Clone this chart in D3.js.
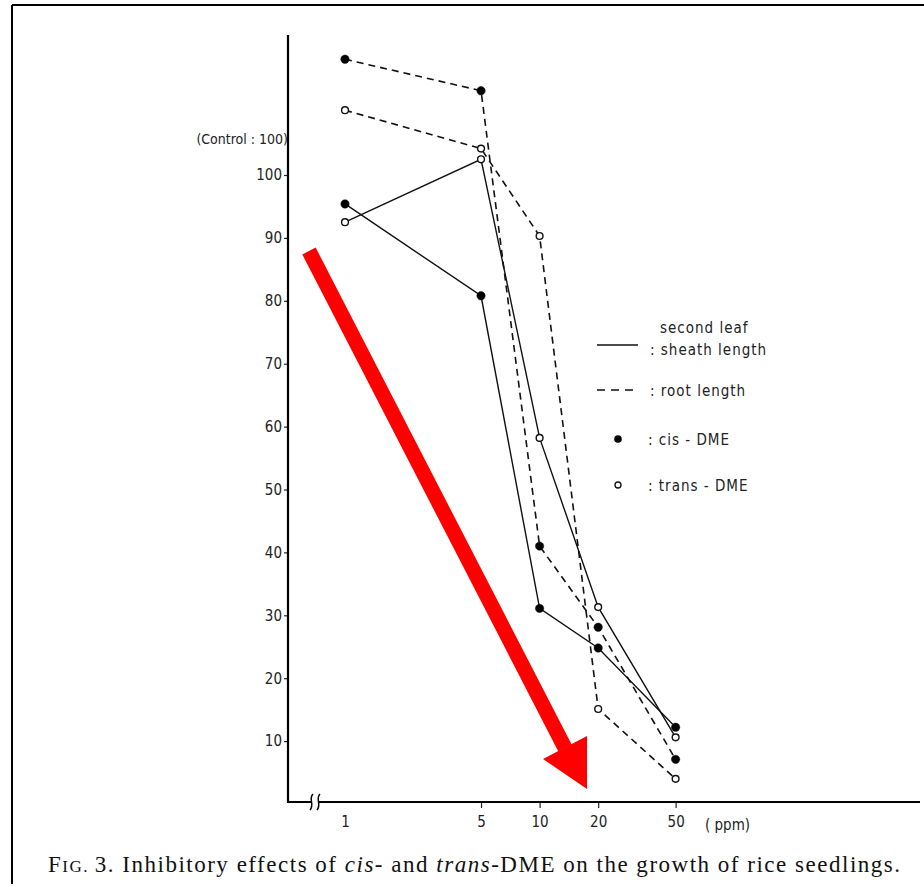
<!DOCTYPE html>
<html>
<head>
<meta charset="utf-8">
<script src="https://cdn.jsdelivr.net/npm/d3@7"></script>
<style>
  body { margin: 0; background: #fff; }
  svg { display: block; }
</style>
</head>
<body>
<svg id="drawing_region"></svg>
<script>
// concentrations (ppm) and growth relative to control (= 100)
const concentrations = [1, 5, 10, 20, 50];
const cisSheath   = [95.4, 80.8, 31.1, 24.8, 12.2];
const transSheath = [92.5, 102.5, 58.2, 31.3, 10.6];
const cisRoot     = [118.4, 113.4, 41.0, 28.1, 7.1];
const transRoot   = [110.3, 104.2, 90.3, 15.1, 4.0];

const yTicks = [10, 20, 30, 40, 50, 60, 70, 80, 90, 100];
const xTicks = [1, 5, 10, 20, 50];

const series = [
    { name: 'cis sheath',   values: cisSheath,   dashed: false, filled: true },
    { name: 'trans sheath', values: transSheath, dashed: false, filled: false },
    { name: 'cis root',     values: cisRoot,     dashed: true,  filled: true },
    { name: 'trans root',   values: transRoot,   dashed: true,  filled: false }
];

const config = {
    width: 924,
    height: 887,
    axisX: 288,
    axisY: 802,
    axisTop: 35,
    axisRight: 920
};

const labelFont = "'DejaVu Sans Condensed', 'Liberation Sans Narrow', sans-serif";

const svg = d3.select('#drawing_region')
    .attr('width', config.width)
    .attr('height', config.height);

// scanned page frame (top + left edge)
svg.append('line').attr('x1', 12).attr('x2', config.width).attr('y1', 5).attr('y2', 5)
    .attr('stroke', '#000').attr('stroke-width', 2);
svg.append('line').attr('x1', 12).attr('x2', 12).attr('y1', 5).attr('y2', 884)
    .attr('stroke', '#000').attr('stroke-width', 2);

const xScale = d3.scaleLog()
    .domain([1, 10])
    .range([345, 539.6]);

const yScale = d3.scaleLinear()
    .domain([0, 100])
    .range([804, 175]);

// y axis
const yAxis = d3.axisLeft(yScale)
    .tickValues(yTicks)
    .tickSize(4)
    .tickPadding(2)
    .tickFormat(d3.format('d'));

const yg = svg.append('g')
    .attr('transform', `translate(${config.axisX},0)`)
    .call(yAxis);
yg.select('.domain').remove();
yg.selectAll('text')
    .attr('font-family', labelFont)
    .attr('font-size', 15)
    .attr('fill', '#222');
yg.selectAll('line').attr('stroke', '#222').attr('stroke-width', 1.2);

svg.append('line')
    .attr('x1', config.axisX).attr('x2', config.axisX)
    .attr('y1', config.axisTop).attr('y2', config.axisY)
    .attr('stroke', '#000').attr('stroke-width', 2.2);

svg.append('text')
    .attr('x', config.axisX).attr('y', 144)
    .attr('text-anchor', 'end')
    .attr('font-family', labelFont)
    .attr('font-size', 14)
    .attr('fill', '#222')
    .text('(Control : 100)');

// x axis
const xAxis = d3.axisBottom(xScale)
    .tickValues(xTicks)
    .tickSize(6)
    .tickPadding(8)
    .tickFormat(d3.format('d'));

const xg = svg.append('g')
    .attr('transform', `translate(0,${config.axisY})`)
    .call(xAxis);
xg.select('.domain').remove();
xg.selectAll('.tick').filter(d => d === 1).select('line').remove();
xg.selectAll('text')
    .attr('font-family', labelFont)
    .attr('font-size', 15)
    .attr('fill', '#222');
xg.selectAll('line').attr('stroke', '#222').attr('stroke-width', 1.2);

svg.append('line')
    .attr('x1', config.axisX - 1).attr('x2', config.axisRight)
    .attr('y1', config.axisY).attr('y2', config.axisY)
    .attr('stroke', '#000').attr('stroke-width', 2.2);

// axis break
svg.append('rect').attr('x', 311).attr('y', config.axisY - 4).attr('width', 7).attr('height', 8)
    .attr('fill', '#fff');
[311, 318].forEach(bx => {
    svg.append('path')
        .attr('d', `M${bx + 2},${config.axisY - 8} C${bx - 3},${config.axisY - 3} ${bx + 4},${config.axisY + 2} ${bx - 1},${config.axisY + 8}`)
        .attr('fill', 'none').attr('stroke', '#000').attr('stroke-width', 1.5);
});

svg.append('text')
    .attr('x', 705).attr('y', 830)
    .attr('font-family', labelFont)
    .attr('font-size', 15)
    .attr('fill', '#222')
    .text('( ppm)');

// data lines
const line = d3.line()
    .x((d, i) => xScale(concentrations[i]))
    .y(d => yScale(d));

svg.selectAll('.series')
    .data(series)
    .enter()
    .append('path')
    .attr('class', 'series')
    .attr('d', d => line(d.values))
    .attr('fill', 'none')
    .attr('stroke', '#111')
    .attr('stroke-width', d => d.dashed ? 1.6 : 1.4)
    .attr('stroke-dasharray', d => d.dashed ? '7,5' : null);

series.forEach(s => {
    svg.selectAll(null)
        .data(s.values)
        .enter()
        .append('circle')
        .attr('cx', (d, i) => xScale(concentrations[i]))
        .attr('cy', d => yScale(d))
        .attr('r', s.filled ? 4.2 : 3.4)
        .attr('fill', s.filled ? '#000' : '#fff')
        .attr('stroke', '#111')
        .attr('stroke-width', s.filled ? 0.5 : 1.4);
});

// legend
const legend = svg.append('g')
    .attr('font-family', labelFont)
    .attr('font-size', 15)
    .attr('fill', '#222')
    .attr('letter-spacing', 1);

legend.append('line').attr('x1', 597).attr('x2', 638).attr('y1', 345).attr('y2', 345)
    .attr('stroke', '#111').attr('stroke-width', 1.3);
legend.append('line').attr('x1', 597).attr('x2', 638).attr('y1', 390).attr('y2', 390)
    .attr('stroke', '#111').attr('stroke-width', 1.6).attr('stroke-dasharray', '8,6');
legend.append('circle').attr('cx', 618).attr('cy', 439).attr('r', 3.8).attr('fill', '#000');
legend.append('circle').attr('cx', 618).attr('cy', 485).attr('r', 3).attr('fill', '#fff')
    .attr('stroke', '#111').attr('stroke-width', 1.3);

legend.append('text').attr('x', 660).attr('y', 333).text('second  leaf');
legend.append('text').attr('x', 650).attr('y', 355).text(': sheath length');
legend.append('text').attr('x', 650).attr('y', 396).text(': root  length');
legend.append('text').attr('x', 648).attr('y', 445).text(': cis - DME');
legend.append('text').attr('x', 648).attr('y', 491).text(': trans - DME');

// red annotation arrow
const arrowStart = [309, 251];
const arrowBase = [565, 748];
svg.append('line')
    .attr('x1', arrowStart[0]).attr('y1', arrowStart[1])
    .attr('x2', arrowBase[0]).attr('y2', arrowBase[1])
    .attr('stroke', '#ff0000').attr('stroke-width', 15);
svg.append('path')
    .attr('d', 'M543,759 L587,736 L587,789 Z')
    .attr('fill', '#ff0000');

// caption
const caption = svg.append('text')
    .attr('x', 48).attr('y', 872)
    .attr('font-family', "'Liberation Serif', 'DejaVu Serif', serif")
    .attr('font-size', 23)
    .attr('fill', '#111')
    .attr('textLength', 852)
    .attr('lengthAdjust', 'spacing');
caption.append('tspan').text('F');
caption.append('tspan').attr('font-size', 17).text('IG. ');
caption.append('tspan').text('3.  Inhibitory effects of ');
caption.append('tspan').attr('font-style', 'italic').text('cis');
caption.append('tspan').text('- and ');
caption.append('tspan').attr('font-style', 'italic').text('trans');
caption.append('tspan').text('-DME on the growth of rice seedlings.');
</script>
</body>
</html>
